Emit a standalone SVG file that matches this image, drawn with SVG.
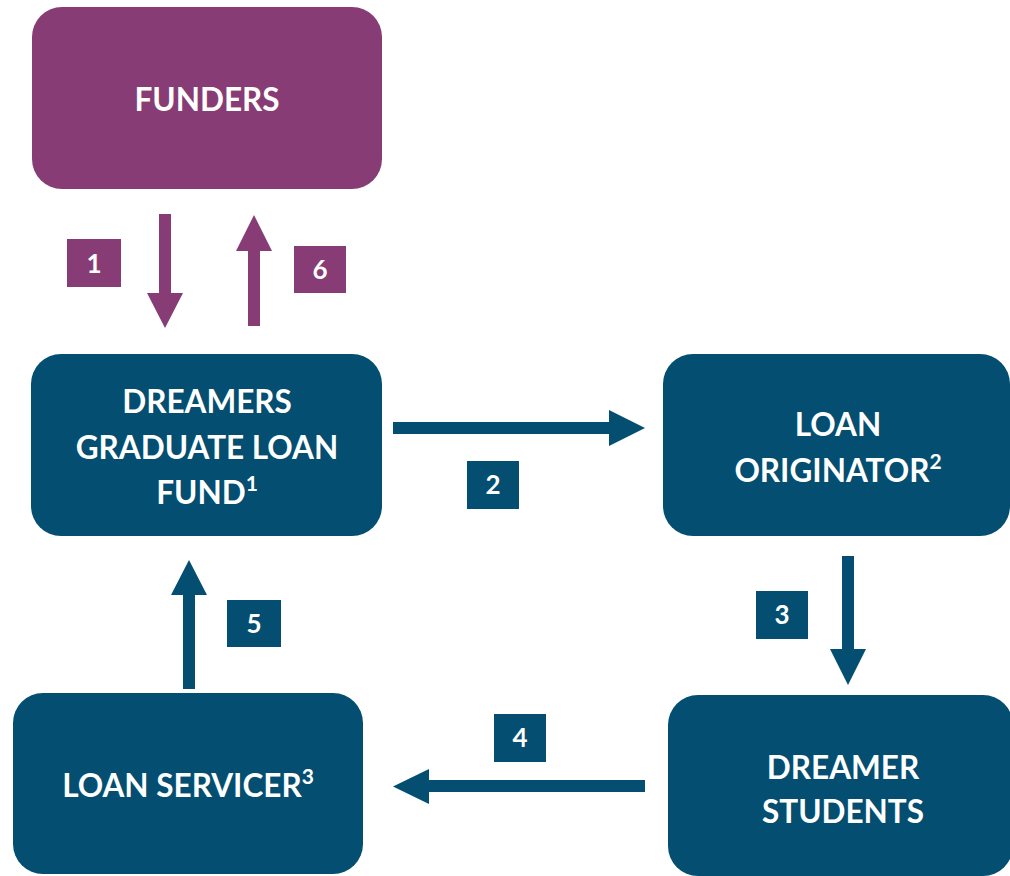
<svg xmlns="http://www.w3.org/2000/svg" width="1010" height="876" viewBox="0 0 1010 876">
<style>
.purple{fill:#873C75}
.blue{fill:#034E71}
.t{font-family:Lato,"Liberation Sans",Arial,sans-serif;font-weight:bold;font-size:31.5px;fill:#ffffff;text-anchor:middle}
.n{font-family:Lato,"Liberation Sans",Arial,sans-serif;font-weight:bold;font-size:26px;fill:#ffffff;text-anchor:middle}
.sup{font-size:21px}
</style>
<rect width="1010" height="876" fill="#ffffff"/>
<g id="funders">
<rect class="purple" x="32" y="7" width="350" height="182" rx="30" ry="30"/>
<text class="t" x="207" y="111">FUNDERS</text>
</g>
<g id="fund">
<rect class="blue" x="31" y="354" width="351" height="182" rx="30" ry="30"/>
<text class="t" x="207" y="413">DREAMERS</text>
<text class="t" x="207" y="459">GRADUATE LOAN</text>
<text class="t" x="207" y="504">FUND<tspan class="sup" dy="-13">1</tspan></text>
</g>
<g id="originator">
<rect class="blue" x="663" y="354" width="347" height="182" rx="30" ry="30"/>
<text class="t" x="838" y="436">LOAN</text>
<text class="t" x="838" y="482">ORIGINATOR<tspan class="sup" dy="-13">2</tspan></text>
</g>
<g id="students">
<rect class="blue" x="668" y="695" width="345" height="181" rx="30" ry="30"/>
<text class="t" x="843" y="779">DREAMER</text>
<text class="t" x="843" y="823">STUDENTS</text>
</g>
<g id="servicer">
<rect class="blue" x="13" y="693" width="350" height="181" rx="30" ry="30"/>
<text class="t" x="188" y="797">LOAN SERVICER<tspan class="sup" dy="-13">3</tspan></text>
</g>
<g id="connectors">
<path class="purple" d="M159 214H171V293H183L165 328L147 293H159Z"/>
<path class="purple" d="M248 326H260V251H272L254 215L236 251H248Z"/>
<path class="blue" d="M393 422H609V410L645 428L609 446V434H393Z"/>
<path class="blue" d="M842 556H854V649H866L848 685L830 649H842Z"/>
<path class="blue" d="M645 780H429V769L393 786.5L429 804V792H645Z"/>
<path class="blue" d="M183 689H195V595H207L189 560L171 595H183Z"/>
<g id="labels">
<rect class="purple" x="67" y="239" width="54" height="48"/>
<text class="n" x="94" y="273">1</text>
<rect class="purple" x="294" y="246" width="52" height="47"/>
<text class="n" x="320" y="279">6</text>
<rect class="blue" x="467" y="461" width="52" height="48"/>
<text class="n" x="493" y="494">2</text>
<rect class="blue" x="756" y="591" width="52" height="48"/>
<text class="n" x="782" y="624">3</text>
<rect class="blue" x="494" y="714" width="52" height="48"/>
<text class="n" x="520" y="747">4</text>
<rect class="blue" x="227" y="600" width="54" height="47"/>
<text class="n" x="254" y="633">5</text>
</g>
</g>
</svg>
